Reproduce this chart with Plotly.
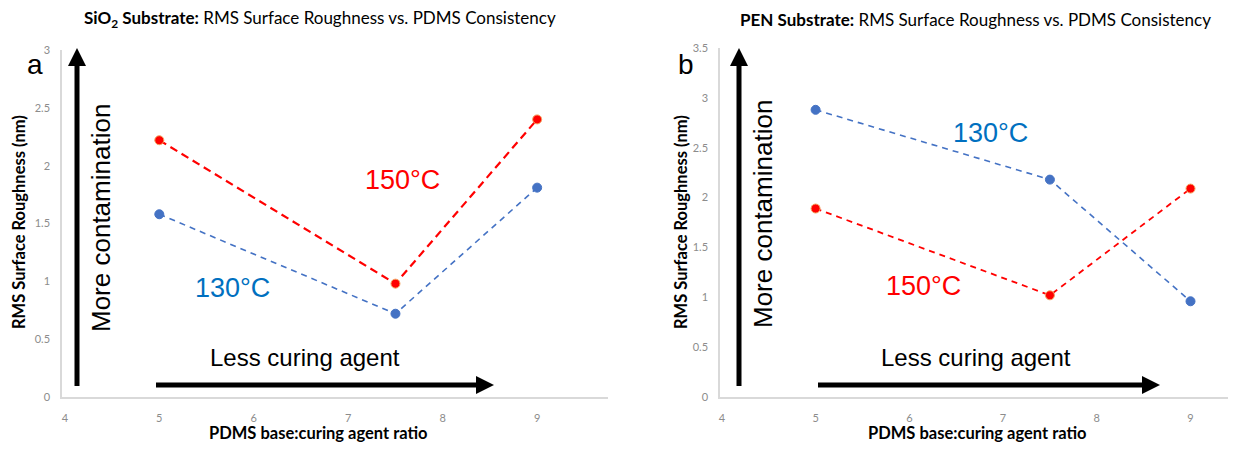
import plotly.graph_objects as go

W, H = 1236, 451
OFF = 8  # browser body margin
FW, FH = W - 2 * OFF, H - 2 * OFF

# ---- data ----
ratio = [5, 7.5, 9]
sio2_130 = [1.58, 0.72, 1.81]
sio2_150 = [2.22, 0.98, 2.40]
pen_130 = [2.88, 2.18, 0.96]
pen_150 = [1.89, 1.02, 2.09]
x_ticks = [4, 5, 6, 7, 8, 9]
y_ticks_a = [0, 0.5, 1, 1.5, 2, 2.5, 3]
y_ticks_b = [0, 0.5, 1, 1.5, 2, 2.5, 3, 3.5]

RED = "#FF0000"
BLUE = "#4472C4"
BLUE_TXT = "#0070C0"
AX = "#D9D9D9"
TICK = "#8C8C8C"
ARIAL = "Liberation Sans, Arial, sans-serif"
CAL = "Lato, Carlito, Calibri, sans-serif"


def px(x):
    return (x - OFF) / FW


def py(y):
    return 1 - (y - OFF) / FH


fig = go.Figure()

series = [
    ("x", "y", sio2_150, RED, "8px,5px", 2.2),
    ("x", "y", sio2_130, BLUE, "6px,5px", 1.6),
    ("x2", "y2", pen_130, BLUE, "6px,5px", 1.6),
    ("x2", "y2", pen_150, RED, "6px,5px", 1.8),
]
for xa, ya, vals, col, dash, lw in series:
    fig.add_trace(go.Scatter(
        x=ratio, y=vals, xaxis=xa, yaxis=ya, mode="lines+markers",
        line=dict(color=col, width=lw, dash=dash),
        marker=dict(color=col, size=9,
                    line=dict(color="#F4A460" if col == RED else col, width=1)),
        showlegend=False, hoverinfo="skip"))

ax_common = dict(showgrid=False, zeroline=False, showline=True, linecolor=AX,
                 linewidth=1.5, ticks="", automargin=False,
                 tickfont=dict(family=CAL, size=11, color=TICK))
fig.update_layout(
    width=FW, height=FH, margin=dict(l=0, r=0, t=0, b=0, autoexpand=False),
    paper_bgcolor="white", plot_bgcolor="white",
    xaxis=dict(domain=[px(62), px(608)], range=[3.97, 9.75], tickvals=x_ticks,
               anchor="y", ticklabelstandoff=10, **ax_common),
    yaxis=dict(domain=[py(397), py(50)], range=[0, 3], tickvals=y_ticks_a,
               anchor="x", ticklabelstandoff=8, **ax_common),
    xaxis2=dict(domain=[px(720), px(1228)], range=[3.98, 9.4], tickvals=x_ticks,
                anchor="y2", ticklabelstandoff=10, **ax_common),
    yaxis2=dict(domain=[py(397), py(48)], range=[0, 3.5], tickvals=y_ticks_b,
                anchor="x2", ticklabelstandoff=8, **ax_common),
)

ann = []


def text(x, y, t, size, color="black", family=ARIAL, angle=0, **kw):
    ann.append(dict(x=px(x), y=py(y), xref="paper", yref="paper", text=t,
                    showarrow=False, textangle=angle,
                    font=dict(family=family, size=size, color=color),
                    xanchor="center", yanchor="middle", **kw))


# titles
text(320, 19, "<b>SiO<sub>2</sub> Substrate:</b> RMS Surface Roughness vs. PDMS Consistency", 17, family=CAL)
text(975, 19, "<b>PEN Substrate:</b> RMS Surface Roughness vs. PDMS Consistency", 17, family=CAL)
# axis titles
text(19, 222, "<b>RMS Surface Roughness (nm)</b>", 16.5, family=CAL, angle=-90)
text(681, 222, "<b>RMS Surface Roughness (nm)</b>", 16.5, family=CAL, angle=-90)
text(318, 433, "<b>PDMS base:curing agent ratio</b>", 16.5, family=CAL)
text(977, 433, "<b>PDMS base:curing agent ratio</b>", 16.5, family=CAL)
# panel letters
text(35, 64, "a", 28)
text(686, 64, "b", 28)
# arrow labels
text(101, 218, "More contamination", 26, angle=-90)
text(763, 214, "More contamination", 26, angle=-90)
text(305, 357, "Less curing agent", 24)
text(976, 357, "Less curing agent", 24)
# series labels
text(402, 180, "150°C", 27, color=RED)
text(232, 288, "130°C", 27, color=BLUE_TXT)
text(990, 133, "130°C", 27, color=BLUE_TXT)
text(923, 286, "150°C", 27, color=RED)

fig.update_layout(annotations=ann)

shapes = []


def varrow(x, y0, y1):
    hl, hw = 18, 9
    shapes.append(dict(type="line", xref="paper", yref="paper",
                       x0=px(x), x1=px(x), y0=py(y0), y1=py(y1 + hl - 2),
                       line=dict(color="black", width=5)))
    shapes.append(dict(type="path", xref="paper", yref="paper",
                       path=f"M {px(x - hw)} {py(y1 + hl)} L {px(x + hw)} {py(y1 + hl)} L {px(x)} {py(y1)} Z",
                       fillcolor="black", line=dict(width=0)))


def harrow(y, x0, x1):
    hl, hw = 18, 9
    shapes.append(dict(type="line", xref="paper", yref="paper",
                       x0=px(x0), x1=px(x1 - hl + 2), y0=py(y), y1=py(y),
                       line=dict(color="black", width=5)))
    shapes.append(dict(type="path", xref="paper", yref="paper",
                       path=f"M {px(x1 - hl)} {py(y - hw)} L {px(x1 - hl)} {py(y + hw)} L {px(x1)} {py(y)} Z",
                       fillcolor="black", line=dict(width=0)))


varrow(77, 386, 48)
varrow(739, 386, 48)
harrow(385, 156, 494)
harrow(385, 818, 1160)

fig.update_layout(shapes=shapes)

fig.write_html("out.html")
